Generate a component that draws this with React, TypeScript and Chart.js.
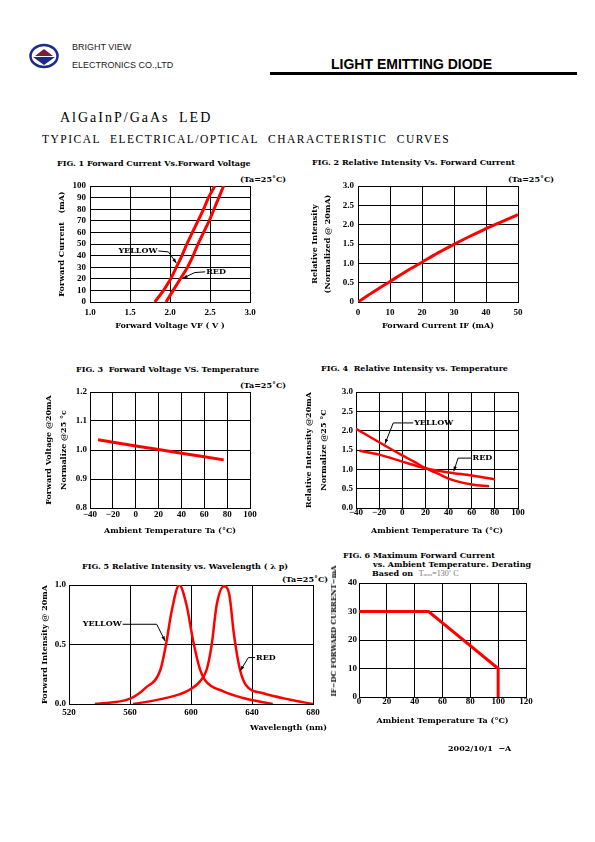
import React, { useEffect, useRef } from "react";
import { Chart, registerables } from "chart.js";

Chart.register(...registerables);

// ---------------- DATA ----------------
// FIG. 1 Forward current vs forward voltage
const F1_CURRENT_MA = [0, 10, 20, 30, 40, 50, 60, 70, 80, 90, 100];
const F1_YELLOW_VF = [1.81, 1.92, 2.01, 2.08, 2.15, 2.21, 2.28, 2.35, 2.42, 2.48, 2.56];
const F1_RED_VF = [1.95, 2.04, 2.13, 2.22, 2.29, 2.35, 2.42, 2.49, 2.55, 2.61, 2.67];

// FIG. 2 Relative intensity vs forward current
const F2_CURRENT_MA = [0, 5, 10, 15, 20, 25, 30, 35, 40, 45, 50];
const F2_REL_INTENSITY = [0, 0.27, 0.53, 0.79, 1.03, 1.27, 1.49, 1.7, 1.9, 2.08, 2.26];

// FIG. 3 Forward voltage vs temperature
const F3_TEMP_C = [-33, 0, 20, 40, 60, 77];
const F3_VF_NORM = [1.035, 1.014, 1.002, 0.989, 0.977, 0.966];

// FIG. 4 Relative intensity vs temperature
const F4_YELLOW_TEMP = [-40, -20, 0, 10, 20, 30, 40, 50, 60, 75];
const F4_YELLOW_INT = [2.05, 1.7, 1.36, 1.2, 1.03, 0.9, 0.76, 0.67, 0.61, 0.56];
const F4_RED_TEMP = [-37, -20, 0, 20, 40, 60, 80];
const F4_RED_INT = [1.48, 1.38, 1.2, 1.03, 0.92, 0.84, 0.74];

// FIG. 5 Relative intensity vs wavelength
const F5_YELLOW_NM = [537, 560, 570, 580, 583.6, 587.3, 592.3, 597.1, 601.5, 605.9, 609.2, 621.2, 634.3, 653.6];
const F5_YELLOW_INT = [0, 0.045, 0.134, 0.29, 0.5, 0.78, 1.0, 0.83, 0.525, 0.29, 0.2, 0.106, 0.05, 0];
const F5_RED_NM = [562, 581.8, 597.1, 605.9, 610.3, 613.6, 616.8, 621.6, 625.1, 628.2, 632.1, 636, 647.4, 665, 680];
const F5_RED_INT = [0, 0.045, 0.106, 0.19, 0.29, 0.5, 0.83, 0.99, 0.92, 0.58, 0.29, 0.16, 0.09, 0.036, 0];

// FIG. 6 Max forward current derating
const F6_TEMP_C = [0, 50, 100, 100];
const F6_IF_MA = [30, 30, 10, 0];

// Axis ranges / tick steps: [min, max, step]
const F1_X = [1, 3, 0.5];
const F1_Y = [0, 100, 10];
const F2_X = [0, 50, 10];
const F2_Y = [0, 3, 0.5];
const F3_X = [-40, 100, 20];
const F3_Y = [0.8, 1.2, 0.1];
const F4_X = [-40, 100, 20];
const F4_Y = [0, 3, 0.5];
const F5_X = [520, 680, 40];
const F5_Y = [0, 1, 0.5];
const F6_X = [0, 120, 20];
const F6_Y = [0, 40, 10];

// ---------------- STYLE ----------------
const RED = "#ff0000";
const SERIF_W = "'DejaVu Serif', serif";
const SERIF = "'Liberation Serif', 'Times New Roman', serif";
const SANS = "'Liberation Sans', Arial, sans-serif";
const TICK_SIZE = 9;
const TITLE_SIZE = 8;

type Ann = { text: string; align: "left" | "right"; path: [number, number][] };

const leaderPlugin = {
  id: "leaderLabels",
  afterDatasetsDraw(chart: any, _args: any, opts: any) {
    const items: Ann[] = (opts && opts.items) || [];
    const { ctx } = chart;
    const xs = chart.scales.x;
    const ys = chart.scales.y;
    ctx.save();
    ctx.strokeStyle = "#000";
    ctx.fillStyle = "#000";
    ctx.lineWidth = 1;
    ctx.font = `bold ${TITLE_SIZE}px ${SERIF_W}`;
    for (const a of items) {
      const pts = a.path.map(([vx, vy]) => [xs.getPixelForValue(vx), ys.getPixelForValue(vy)]);
      ctx.beginPath();
      pts.forEach(([px, py], i) => (i ? ctx.lineTo(px, py) : ctx.moveTo(px, py)));
      ctx.stroke();
      const [x1, y1] = pts[pts.length - 2];
      const [x2, y2] = pts[pts.length - 1];
      const ang = Math.atan2(y2 - y1, x2 - x1);
      ctx.beginPath();
      ctx.moveTo(x2, y2);
      ctx.lineTo(x2 - 5 * Math.cos(ang - 0.35), y2 - 5 * Math.sin(ang - 0.35));
      ctx.lineTo(x2 - 5 * Math.cos(ang + 0.35), y2 - 5 * Math.sin(ang + 0.35));
      ctx.closePath();
      ctx.fill();
      const [tx, ty] = pts[0];
      ctx.textAlign = a.align === "left" ? "left" : "right";
      ctx.textBaseline = "middle";
      ctx.fillText(a.text, tx + (a.align === "left" ? 1 : -1), ty);
    }
    ctx.restore();
  },
};

type Series = { x: number[]; y: number[]; smooth?: boolean; width?: number };
type Spec = {
  L: number; T: number; W: number; H: number;
  xr: number[]; yr: number[];
  xFmt: (v: number) => string; yFmt: (v: number) => string;
  xTitle: string; xTitleY: number; xTitleRight?: number;
  yTitle: string | string[]; yTitleX: number; yTitleLH?: number; yTitleCenterY?: number; yTitleSize?: number;
  xLabelY: number; yLabelRight: number;
  series: Series[];
  ann?: Ann[];
};

const YW = 60, XH = 45, PT = 10, PR = 22;

function geom(s: Spec) {
  return { left: s.L - YW, top: s.T - PT, width: YW + s.W + PR, height: PT + s.H + XH };
}

function buildConfig(s: Spec): any {
  const g = geom(s);
  const tickLH = TICK_SIZE * 1.2;
  const tlh = TITLE_SIZE * 1.2;
  const ylhMul = s.yTitleLH || 1.2;
  const ylh = TITLE_SIZE * ylhMul;
  const canvasBottom = g.top + g.height;
  const tickFont = { family: SERIF, size: TICK_SIZE, weight: "bold" as const };
  return {
    type: "line",
    data: {
      datasets: s.series.map((se) => ({
        data: se.x.map((v, i) => ({ x: v, y: se.y[i] })),
        borderColor: RED,
        backgroundColor: RED,
        borderWidth: se.width || 2.5,
        pointRadius: 0,
        fill: false,
        tension: 0,
        cubicInterpolationMode: se.smooth ? "monotone" : "default",
      })),
    },
    options: {
      responsive: false,
      animation: false,
      devicePixelRatio: 1,
      events: [],
      layout: { padding: { left: 0, top: PT, right: PR, bottom: 0 } },
      plugins: {
        legend: { display: false },
        tooltip: { enabled: false },
        leaderLabels: { items: s.ann || [] },
      },
      scales: {
        x: {
          type: "linear",
          min: s.xr[0],
          max: s.xr[1],
          afterFit: (sc: any) => { sc.height = XH; },
          ticks: {
            stepSize: s.xr[2],
            autoSkip: false,
            maxRotation: 0,
            minRotation: 0,
            color: "#000",
            font: tickFont,
            padding: s.xLabelY - (s.T + s.H) - tickLH / 2,
            callback: (v: any) => s.xFmt(Number(v)),
          },
          grid: { color: "#000", lineWidth: 1, drawTicks: false },
          border: { color: "#000", width: 1 },
          title: {
            display: s.xTitleRight === undefined,
            text: s.xTitle,
            color: "#000",
            font: { family: SERIF_W, size: TITLE_SIZE, weight: "bold" },
            padding: { top: 0, bottom: canvasBottom - s.xTitleY - tlh / 2 },
          },
        },
        y: {
          type: "linear",
          min: s.yr[0],
          max: s.yr[1],
          afterFit: (sc: any) => { sc.width = YW; },
          ticks: {
            stepSize: s.yr[2],
            autoSkip: false,
            color: "#000",
            font: tickFont,
            padding: s.L - s.yLabelRight,
            callback: (v: any) => s.yFmt(Number(v)),
          },
          grid: { color: "#000", lineWidth: 1, drawTicks: false },
          border: { color: "#000", width: 1 },
          title: {
            display: s.yTitleCenterY === undefined,
            text: s.yTitle,
            color: "#000",
            font: { family: SERIF_W, size: TITLE_SIZE, weight: "bold", lineHeight: ylhMul },
            padding: { top: s.yTitleX - g.left - ylh / 2, bottom: 0 },
          },
        },
      },
    },
    plugins: [leaderPlugin],
  };
}

function ChartBox({ spec }: { spec: Spec }) {
  const ref = useRef<HTMLCanvasElement>(null);
  useEffect(() => {
    const c = new Chart(ref.current as HTMLCanvasElement, buildConfig(spec));
    return () => c.destroy();
  }, []);
  const g = geom(spec);
  const titleStyle: any = {
    position: "absolute",
    fontFamily: SERIF_W,
    fontWeight: "bold",
    fontSize: TITLE_SIZE,
    lineHeight: "10px",
    whiteSpace: "pre",
    color: "#000",
  };
  return (
    <>
      <canvas
        ref={ref}
        width={g.width}
        height={g.height}
        style={{ position: "absolute", left: g.left, top: g.top, width: g.width, height: g.height }}
      />
      {spec.xTitleRight !== undefined && (
        <div style={{ ...titleStyle, right: 595 - spec.xTitleRight, top: spec.xTitleY - 5 }}>{spec.xTitle}</div>
      )}
      {spec.yTitleCenterY !== undefined && (
        <div
          style={{
            ...titleStyle,
            fontSize: spec.yTitleSize || TITLE_SIZE,
            left: spec.yTitleX,
            top: spec.yTitleCenterY,
            transform: "translate(-50%, -50%) rotate(-90deg)",
          }}
        >
          {spec.yTitle}
        </div>
      )}
    </>
  );
}

const fx1 = (v: number) => v.toFixed(1);
const fint = (v: number) => String(Math.round(v));
const fneg = (v: number) => (v < 0 ? "\u2212" + Math.abs(Math.round(v)) : String(Math.round(v)));
const f2y = (v: number) => (v === 0 ? "0" : v.toFixed(1));

const SPECS: Spec[] = [
  {
    L: 90, T: 186, W: 160, H: 116, xr: F1_X, yr: F1_Y, xFmt: fx1, yFmt: fint,
    xTitle: "Forward Voltage VF ( V )", xTitleY: 326,
    yTitle: "Forward Current   (mA)", yTitleX: 62,
    xLabelY: 313, yLabelRight: 86,
    series: [
      { x: F1_YELLOW_VF, y: F1_CURRENT_MA, width: 3 },
      { x: F1_RED_VF, y: F1_CURRENT_MA, width: 3 },
    ],
    ann: [
      { text: "YELLOW", align: "right", path: [[1.855, 44], [1.98, 43.2], [2.08, 33.5]] },
      { text: "RED", align: "left", path: [[2.44, 26], [2.31, 25.4], [2.16, 20.5]] },
    ],
  },
  {
    L: 358, T: 186, W: 160, H: 116, xr: F2_X, yr: F2_Y, xFmt: fint, yFmt: f2y,
    xTitle: "Forward Current IF (mA)", xTitleY: 326,
    yTitle: ["Relative Intensity", "(Normalized @ 20mA)"], yTitleX: 315, yTitleLH: 1.625,
    xLabelY: 313, yLabelRight: 354,
    series: [{ x: F2_CURRENT_MA, y: F2_REL_INTENSITY, smooth: true, width: 3 }],
  },
  {
    L: 90, T: 392, W: 160, H: 116, xr: F3_X, yr: F3_Y, xFmt: fneg, yFmt: fx1,
    xTitle: "Ambient Temperature Ta (\u00B0C)", xTitleY: 531,
    yTitle: ["Forward Voltage @20mA", "Normalize @25 \u00B0c"], yTitleX: 49, yTitleLH: 1.875,
    xLabelY: 515, yLabelRight: 87,
    series: [{ x: F3_TEMP_C, y: F3_VF_NORM, width: 3 }],
  },
  {
    L: 356, T: 392, W: 162, H: 116, xr: F4_X, yr: F4_Y, xFmt: fneg, yFmt: fx1,
    xTitle: "Ambient Temperature Ta (\u00B0C)", xTitleY: 531,
    yTitle: ["Relative Intensity @20mA", "Normalize @25 \u00B0C"], yTitleX: 309, yTitleLH: 1.875,
    xLabelY: 513, yLabelRight: 353,
    series: [
      { x: F4_YELLOW_TEMP, y: F4_YELLOW_INT, smooth: true },
      { x: F4_RED_TEMP, y: F4_RED_INT, smooth: true },
    ],
    ann: [
      { text: "YELLOW", align: "left", path: [[9.4, 2.2], [-7.8, 2.2], [-15, 1.66]] },
      { text: "RED", align: "left", path: [[59.8, 1.29], [48.2, 1.29], [44.5, 0.95]] },
    ],
  },
  {
    L: 69, T: 585, W: 244, H: 119, xr: F5_X, yr: F5_Y, xFmt: fint, yFmt: fx1,
    xTitle: "Wavelength (nm)", xTitleY: 727, xTitleRight: 327,
    yTitle: "Forward Intensity @ 20mA", yTitleX: 45,
    xLabelY: 713, yLabelRight: 66,
    series: [
      { x: F5_YELLOW_NM, y: F5_YELLOW_INT, smooth: true },
      { x: F5_RED_NM, y: F5_RED_INT, smooth: true },
    ],
    ann: [
      { text: "YELLOW", align: "right", path: [[555.2, 0.67], [577.5, 0.67], [583, 0.53]] },
      { text: "RED", align: "left", path: [[642, 0.39], [637.6, 0.39], [632.4, 0.28]] },
    ],
  },
  {
    L: 359, T: 583, W: 167, H: 114, xr: F6_X, yr: F6_Y, xFmt: fint, yFmt: fint,
    xTitle: "Ambient Temperature Ta (\u00B0C)", xTitleY: 721,
    yTitle: "IF\u2212DC FORWARD CURRENT\u2212mA", yTitleX: 334, yTitleCenterY: 631, yTitleSize: 7,
    xLabelY: 702, yLabelRight: 357,
    series: [{ x: F6_TEMP_C, y: F6_IF_MA, width: 3 }],
  },
];

function Txt(props: {
  x: number; y: number; size?: number; family?: string; weight?: any; color?: string;
  ls?: number; ws?: number; children: any;
}) {
  const size = props.size || TITLE_SIZE;
  const lh = Math.round(size * 1.25);
  return (
    <div
      style={{
        position: "absolute",
        left: props.x,
        top: props.y - lh / 2,
        fontSize: size,
        lineHeight: `${lh}px`,
        fontFamily: props.family || SERIF_W,
        fontWeight: props.weight || "bold",
        color: props.color || "#000",
        letterSpacing: props.ls ? `${props.ls}px` : undefined,
        wordSpacing: props.ws ? `${props.ws}px` : undefined,
        whiteSpace: "pre",
      }}
    >
      {props.children}
    </div>
  );
}

function Logo() {
  return (
    <svg width={30} height={26} viewBox="0 0 30 26" style={{ position: "absolute", left: 29, top: 43 }}>
      <ellipse cx={15} cy={13} rx={13.5} ry={11} fill="#fff" stroke="#1c2a8a" strokeWidth={2.5} />
      <polygon points="6,13 15,6 24,13" fill="#7a1f3a" />
      <polygon points="4,14 26,14 15,22" fill="#1c2a8a" />
    </svg>
  );
}

export default function App() {
  const ta = "(Ta=25\u02DAC)";
  return (
    <div style={{ position: "absolute", left: 0, top: 0, width: 595, height: 842, background: "#fff" }}>
      <Logo />
      <Txt x={72} y={47} size={9} family={SANS} weight="normal" color="#222">BRIGHT VIEW</Txt>
      <Txt x={72} y={65} size={9} family={SANS} weight="normal" color="#222">ELECTRONICS CO.,LTD</Txt>
      <Txt x={331} y={63.5} size={14} family={SANS} weight="bold">LIGHT EMITTING DIODE</Txt>
      <div style={{ position: "absolute", left: 270, top: 72, width: 307, height: 2.5, background: "#000" }} />
      <Txt x={60} y={118} size={14} family={SERIF} weight="normal" ls={2} ws={4}>AlGaInP/GaAs LED</Txt>
      <Txt x={42} y={138.5} size={11.5} family={SERIF} weight="normal" ls={1.5} ws={5}>
        TYPICAL ELECTRICAL/OPTICAL CHARACTERISTIC CURVES
      </Txt>

      <Txt x={57} y={163}>FIG. 1 Forward Current Vs.Forward Voltage</Txt>
      <Txt x={240} y={179}>{ta}</Txt>
      <Txt x={312} y={162}>FIG. 2 Relative Intensity Vs. Forward Current</Txt>
      <Txt x={508} y={179}>{ta}</Txt>
      <Txt x={76} y={369}>{"FIG. 3  Forward Voltage VS. Temperature"}</Txt>
      <Txt x={240} y={385}>{ta}</Txt>
      <Txt x={321} y={368}>{"FIG. 4  Relative Intensity vs. Temperature"}</Txt>
      <Txt x={82} y={566}>{"FIG. 5 Relative Intensity vs. Wavelength ( \u03BB p)"}</Txt>
      <Txt x={282} y={579}>{ta}</Txt>
      <Txt x={343} y={555}>FIG. 6 Maximum Forward Current</Txt>
      <Txt x={373} y={564}>vs. Ambient Temperature. Derating</Txt>
      <Txt x={372} y={573}>
        {"Based on  "}
        <span style={{ fontFamily: SERIF, fontWeight: "normal", color: "#777", fontSize: 8 }}>
          {"T"}
          <span style={{ fontSize: 5 }}>max</span>
          {"=130\u02DA C"}
        </span>
      </Txt>

      {SPECS.map((s, i) => (
        <ChartBox key={i} spec={s} />
      ))}

      <Txt x={448} y={748}>{"2002/10/1  \u2212A"}</Txt>
    </div>
  );
}
